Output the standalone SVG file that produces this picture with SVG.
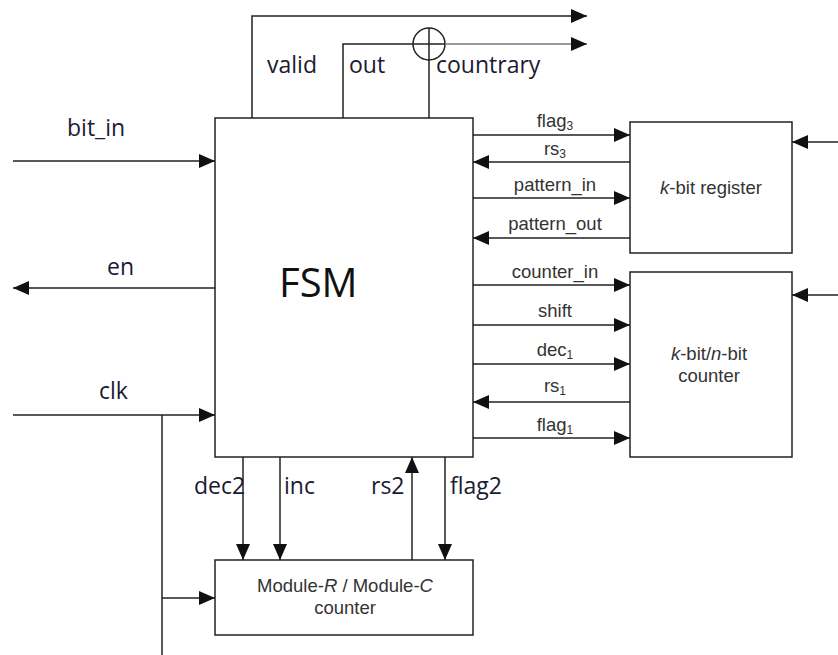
<svg xmlns="http://www.w3.org/2000/svg" width="838" height="655" viewBox="0 0 838 655">
<style>
.box{fill:#fff;stroke:#222;stroke-width:1.5}
.w{fill:none;stroke:#222;stroke-width:1.5}
.wa{fill:none;stroke:#222;stroke-width:1.5;marker-end:url(#ah)}
.big{font-family:"Open Sans",sans-serif;font-size:23px;fill:#1a1a33}
.sm{font-family:"Liberation Sans",Arial,sans-serif;font-size:18.5px;fill:#333;text-anchor:middle}
.bx{font-family:"Liberation Sans",Arial,sans-serif;font-size:18.5px;fill:#333;text-anchor:middle}
.sub{font-size:12px}
</style>
<defs>
<marker id="ah" markerWidth="16" markerHeight="14" refX="16" refY="7" orient="auto" markerUnits="userSpaceOnUse">
<path d="M0,0 L16,7 L0,14 Z" fill="#111"/>
</marker>
</defs>
<g id="fsm">
<rect class="box" x="215" y="118" width="258" height="339"/>
<text x="279" y="297" font-family="Open Sans,sans-serif" font-size="40" fill="#111">FSM</text>
</g>
<g id="register">
<rect class="box" x="630" y="122" width="162" height="131"/>
<text class="bx" x="711" y="194"><tspan font-style="italic">k</tspan>-bit register</text>
</g>
<g id="counter">
<rect class="box" x="630" y="272" width="162" height="185"/>
<text class="bx" x="709" y="360"><tspan font-style="italic">k</tspan>-bit/<tspan font-style="italic">n</tspan>-bit</text>
<text class="bx" x="709" y="382">counter</text>
</g>
<g id="modcounter">
<rect class="box" x="215" y="560" width="258" height="75"/>
<text class="bx" x="345" y="592">Module-<tspan font-style="italic">R</tspan> / Module-<tspan font-style="italic">C</tspan></text>
<text class="bx" x="345" y="614">counter</text>
</g>
<g id="xor">
<circle cx="429" cy="44" r="16" fill="none" stroke="#222" stroke-width="1.5"/>
</g>
<g id="connectors">
<path class="wa" d="M252,118 V16 H587"/>
<path class="w" d="M343,118 V44 H445"/>
<path class="w" d="M429,118 V28"/>
<path class="wa" d="M445,44 H587" style="stroke:#777"/>
<path class="wa" d="M13,161 H215"/>
<path class="wa" d="M215,288 H13"/>
<path class="wa" d="M13,415 H215"/>
<path class="w" d="M162,415 V655"/>
<path class="wa" d="M162,598 H215"/>
<path class="wa" d="M473,135 H630"/>
<path class="wa" d="M630,162 H473"/>
<path class="wa" d="M473,198 H630"/>
<path class="wa" d="M630,238 H473"/>
<path class="wa" d="M838,142 H792"/>
<path class="wa" d="M473,285 H630"/>
<path class="wa" d="M473,325 H630"/>
<path class="wa" d="M473,364 H630"/>
<path class="wa" d="M630,402 H473"/>
<path class="wa" d="M473,438 H630"/>
<path class="wa" d="M838,295 H792"/>
<path class="wa" d="M243,457 V560"/>
<path class="wa" d="M280,457 V560"/>
<path class="wa" d="M412,560 V457"/>
<path class="wa" d="M445,457 V560"/>
</g>
<g id="labels">
<text class="big" x="267" y="73">valid</text>
<text class="big" x="349" y="73">out</text>
<text class="big" x="436" y="73">countrary</text>
<text class="big" x="67" y="136">bit_in</text>
<text class="big" x="107" y="275">en</text>
<text class="big" x="99" y="399">clk</text>
<text class="big" x="194" y="494">dec2</text>
<text class="big" x="284" y="494">inc</text>
<text class="big" x="371" y="494">rs2</text>
<text class="big" x="450" y="494">flag2</text>
<text class="sm" x="555" y="127">flag<tspan class="sub" dy="3">3</tspan></text>
<text class="sm" x="555" y="155">rs<tspan class="sub" dy="3">3</tspan></text>
<text class="sm" x="555" y="191">pattern_in</text>
<text class="sm" x="555" y="230">pattern_out</text>
<text class="sm" x="555" y="278">counter_in</text>
<text class="sm" x="555" y="317">shift</text>
<text class="sm" x="555" y="356">dec<tspan class="sub" dy="3">1</tspan></text>
<text class="sm" x="555" y="392">rs<tspan class="sub" dy="3">1</tspan></text>
<text class="sm" x="555" y="431">flag<tspan class="sub" dy="3">1</tspan></text>
</g>
</svg>
